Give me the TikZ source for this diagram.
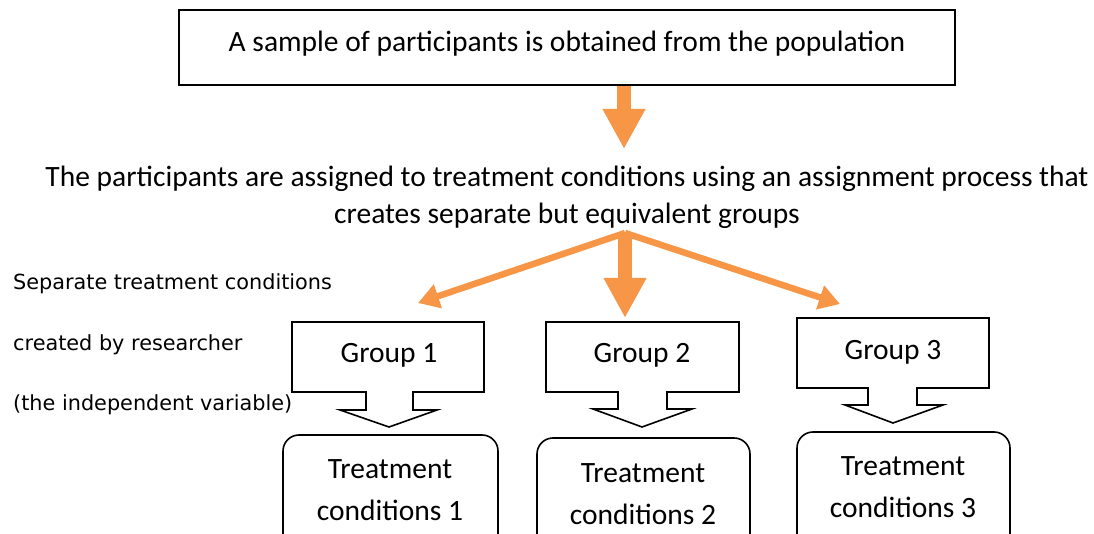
\documentclass[tikz,border=0pt]{standalone}
\usepackage{fontspec}
\setmainfont{Carlito}
\newfontfamily\leftfont{DejaVu Sans}
\usetikzlibrary{arrows.meta}
\definecolor{orng}{HTML}{F79646}
\begin{document}
\begin{tikzpicture}[x=1pt,y=-1pt,
  mtext/.style={font=\fontsize{29.5}{37}\selectfont, inner sep=0pt},
  ttext/.style={font=\fontsize{29.5}{42}\selectfont, inner sep=0pt, anchor=base, align=center},
  ltext/.style={font=\leftfont\fontsize{20.8}{25}\selectfont, inner sep=0pt, anchor=base west},
  boxline/.style={draw=black, line width=1.6pt},
  thinarrow/.style={draw=orng, line width=6.5pt, -{Triangle[length=21pt,width=24pt]}},
  bigarrow/.style={draw=orng, line width=14pt, -{Triangle[length=40pt,width=40pt]}},
]
\path[use as bounding box] (0,0) rectangle (1094,534);
\clip (0,0) rectangle (1094,534);

% top box
\node[boxline, minimum width=776pt, minimum height=75pt, inner sep=0pt] (top) at (567,47.5) {};
\node[mtext, anchor=base] (toptext) at (567,52) {A sample of participants is obtained from the population};

% assignment text (base = last line)
\node[mtext, anchor=base, align=center] (assign) at (567,224) {The participants are assigned to treatment conditions using an assignment process that\\creates separate but equivalent groups};

\coordinate (split) at (625,233);
\coordinate (ltip) at (418,303);
\coordinate (rtip) at (840,304);
\coordinate (ctip) at (625,318);
\coordinate (toptip) at (624,149);

\draw[bigarrow] (top.south -| toptip) -- (toptip);
\draw[thinarrow] (split) -- (ltip);
\draw[thinarrow] (split) -- (rtip);
\draw[bigarrow] (split) -- (ctip);

% left labels
\node[ltext] (lab1) at (13,290) {Separate treatment conditions};
\node[ltext] (lab2) at (13,350) {created by researcher};
\node[ltext] (lab3) at (13,410) {(the independent variable)};

% group callouts
\draw[boxline, line join=miter] (292,322) -- (484,322) -- (484,392) -- (413,392) -- (413,410) -- (437,410) -- (389,427) -- (340,410) -- (366,410) -- (366,392) -- (292,392) -- cycle;
\draw[boxline, line join=miter] (546,322) -- (739,322) -- (739,392) -- (667,392) -- (667,409) -- (692,409) -- (642,427) -- (593,409) -- (618,409) -- (618,392) -- (546,392) -- cycle;
\draw[boxline, line join=miter] (797,318) -- (989,318) -- (989,388) -- (917,388) -- (917,405) -- (943,405) -- (893,423) -- (845,405) -- (868,405) -- (868,388) -- (797,388) -- cycle;
\node[mtext, anchor=base] (g1) at (389,362) {Group 1};
\node[mtext, anchor=base] (g2) at (642,362) {Group 2};
\node[mtext, anchor=base] (g3) at (893,359) {Group 3};

% treatment boxes
\draw[boxline, rounded corners=16pt] (283,435) rectangle (498,570);
\draw[boxline, rounded corners=16pt] (537,438) rectangle (750,570);
\draw[boxline, rounded corners=16pt] (797,432) rectangle (1010,570);
\node[ttext] (t1) at (390,520) {Treatment\\conditions 1};
\node[ttext] (t2) at (643,524) {Treatment\\conditions 2};
\node[ttext] (t3) at (903,517) {Treatment\\conditions 3};
\end{tikzpicture}
\end{document}
